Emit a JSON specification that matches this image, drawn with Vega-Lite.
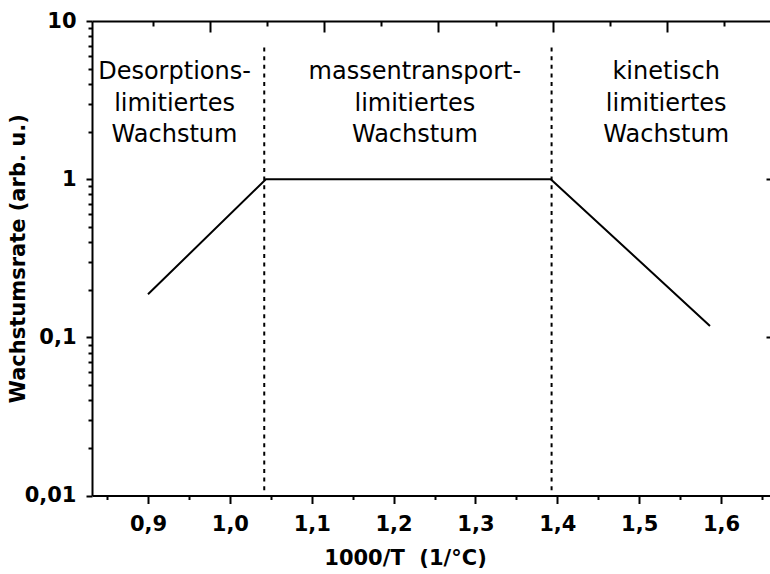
{
  "$schema": "https://vega.github.io/schema/vega-lite/v6.json",
  "autosize": {"type": "none"},
  "padding": {"left": 92, "top": 21, "right": 0, "bottom": 78},
  "width": 678,
  "height": 474.5,
  "config": {
    "view": {"stroke": null},
    "font": "DejaVu Sans",
    "axis": {
      "domainColor": "black",
      "domainWidth": 2,
      "tickColor": "black",
      "tickWidth": 2,
      "grid": false,
      "labelColor": "black",
      "labelFont": "DejaVu Sans",
      "labelFontWeight": "bold",
      "labelFontSize": 21,
      "titleColor": "black",
      "titleFont": "DejaVu Sans",
      "titleFontWeight": "bold",
      "titleFontSize": 21
    }
  },
  "resolve": {"axis": {"x": "independent", "y": "independent"}},
  "layer": [
    {
      "data": {"values": [
        {"x": 0.900, "y": 0.187},
        {"x": 1.044, "y": 1.0},
        {"x": 1.392, "y": 1.0},
        {"x": 1.5865, "y": 0.118}
      ]},
      "mark": {"type": "line", "color": "black", "strokeWidth": 2},
      "encoding": {
        "x": {
          "field": "x", "type": "quantitative",
          "scale": {"domain": [0.8316, 1.6598], "nice": false, "zero": false},
          "axis": {
            "orient": "bottom",
            "values": [0.9, 1.0, 1.1, 1.2, 1.3, 1.4, 1.5, 1.6],
            "labelExpr": "replace(format(datum.value, '.1f'), '.', ',')",
            "tickSize": 8,
            "labelPadding": 10,
            "title": "1000/T\u00a0 (1/°C)",
            "titleX": 313,
            "titlePadding": 13
          }
        },
        "y": {
          "field": "y", "type": "quantitative",
          "scale": {"type": "log", "domain": [0.01, 10], "nice": false},
          "axis": {
            "orient": "left",
            "values": [0.01, 0.1, 1, 10],
            "labelExpr": "replace(format(datum.value, '~g'), '.', ',')",
            "tickSize": 6,
            "labelPadding": 10,
            "title": "Wachstumsrate (arb. u.)",
            "titleX": -74,
            "titleBaseline": "middle"
          }
        }
      }
    },
    {
      "data": {"values": [
        {"x": 1.042, "y": 0.0108, "y2": 6.9},
        {"x": 1.393, "y": 0.0108, "y2": 6.9}
      ]},
      "mark": {"type": "rule", "color": "black", "strokeWidth": 2, "strokeDash": [4, 4.6]},
      "encoding": {
        "x": {
          "field": "x", "type": "quantitative",
          "axis": {
            "orient": "bottom",
            "values": [0.85, 0.95, 1.05, 1.15, 1.25, 1.35, 1.45, 1.55, 1.65],
            "labels": false, "domain": false, "tickSize": 4, "title": null
          }
        },
        "y": {
          "field": "y", "type": "quantitative",
          "axis": {
            "orient": "left",
            "values": [0.02, 0.03, 0.04, 0.05, 0.06, 0.07, 0.08, 0.09,
                       0.2, 0.3, 0.4, 0.5, 0.6, 0.7, 0.8, 0.9,
                       2, 3, 4, 5, 6, 7, 8, 9],
            "labels": false, "domain": false, "tickSize": 4, "title": null
          }
        },
        "y2": {"field": "y2"}
      }
    },
    {
      "data": {"values": [
        {"x": 0.9324, "y": 4.75, "label": "Desorptions-\nlimitiertes\nWachstum"},
        {"x": 1.226, "y": 4.75, "label": "massentransport-\nlimitiertes\nWachstum"},
        {"x": 1.533, "y": 4.75, "label": "kinetisch\nlimitiertes\nWachstum"}
      ]},
      "mark": {
        "type": "text", "color": "black", "font": "DejaVu Sans",
        "fontSize": 24, "fontWeight": "normal",
        "align": "center", "baseline": "middle",
        "lineBreak": "\n", "lineHeight": 31.5
      },
      "encoding": {
        "x": {
          "field": "x", "type": "quantitative",
          "axis": {
            "orient": "top",
            "values": [0.9757, 1.1152, 1.2547, 1.3942, 1.5337],
            "labels": false, "tickSize": -11, "title": null
          }
        },
        "y": {
          "field": "y", "type": "quantitative",
          "axis": {
            "orient": "right",
            "values": [0.1, 1],
            "labels": false, "domain": false, "tickSize": -4, "title": null
          }
        },
        "text": {"field": "label"}
      }
    },
    {
      "data": {"values": [
        {"x": 0.9324, "y": 3.0}
      ]},
      "mark": {"type": "point", "opacity": 0},
      "encoding": {
        "x": {
          "field": "x", "type": "quantitative",
          "axis": {
            "orient": "top",
            "values": [0.9060, 1.0455, 1.1850, 1.3245, 1.4640, 1.6035],
            "labels": false, "domain": false, "tickSize": -5, "title": null
          }
        },
        "y": {"field": "y", "type": "quantitative", "axis": null}
      }
    }
  ]
}
